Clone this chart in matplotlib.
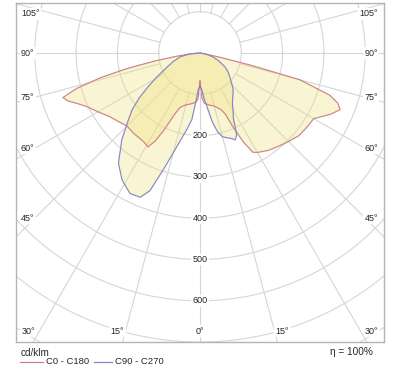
import numpy as np
import matplotlib
matplotlib.use('Agg')
import matplotlib.pyplot as plt
from matplotlib.lines import Line2D

plt.rcParams['font.family'] = ['Liberation Sans', 'DejaVu Sans']

# ---- data: gamma angle (deg from nadir) and luminous intensity (cd/klm) ----
c0_gamma = [0, 2.5, 5, 10, 15, 20, 22.5, 24, 26, 28, 30, 35, 40, 45, 50, 55, 60, 65, 68, 70, 72, 75, 76.5, 78, 80, 90]
c0_vals = [68, 110, 122, 128, 133, 145, 160, 195, 240, 272, 278, 288, 295, 303, 312, 315, 318, 350, 366, 355, 330, 250, 124, 45, 10, 0]

c180_gamma = [0, 2.5, 5, 10, 15, 20, 22.5, 25, 27, 29, 32, 40, 45, 50, 55, 60, 65, 68, 70, 72, 74, 76, 78, 80, 82, 85, 90]
c180_vals = [68, 112, 120, 125, 130, 140, 160, 205, 240, 260, 255, 252, 250, 258, 268, 285, 305, 324, 340, 349, 310, 250, 180, 110, 60, 20, 0]

c90_gamma = [0, 3, 5, 7.5, 10, 12.5, 15, 17.5, 20, 22, 24, 25, 27, 30, 33, 37, 42, 46, 51, 56, 61, 67, 73, 80, 90]
c90_vals = [80, 90, 110, 132, 168, 195, 210, 215, 220, 227, 218, 205, 178, 160, 144, 132, 120, 107, 93, 82, 69, 50, 33, 15, 0]

c270_gamma = [0, 2.5, 5, 7, 10, 12, 15, 17.5, 20, 22.5, 26.5, 31.5, 36.5, 42, 46, 50, 53.5, 57, 61, 66, 72, 79, 85, 90]
c270_vals = [80, 88, 120, 163, 190, 210, 250, 297, 355, 378, 380, 361, 332, 283, 245, 215, 183, 150, 119, 90, 69, 49, 25, 0]

ring_values = [100, 200, 300, 400, 500, 600, 700, 800, 900, 1000]
ring_labels = [200, 300, 400, 500, 600]
side_angles = [45, 60, 75, 90, 105]
bottom_angles = [-30, -15, 0, 15, 30]
unit_label = 'cd/klm'
legend_labels = ['C0 - C180', 'C90 - C270']
efficiency_label = 'η = 100%'

# ---- layout ----
W, H = 400, 370
UPP = 2.4213          # data units per pixel
cx, cy = 200, 53      # pixel position of the polar centre
left_px, right_px, top_px, bot_px = 16, 384, 3, 342

fig = plt.figure(figsize=(W / 100, H / 100), dpi=100)
ax = fig.add_axes([left_px / W, (H - bot_px) / H, (right_px - left_px) / W, (bot_px - top_px) / H])
ax.set_xlim((left_px - cx) * UPP, (right_px - cx) * UPP)
ax.set_ylim((cy - bot_px) * UPP, (cy - top_px) * UPP)
ax.set_xticks([])
ax.set_yticks([])
for s in ax.spines.values():
    s.set_color('#b4b4b4')
    s.set_linewidth(1.0)

grid_c = '#d6d6d6'
th = np.linspace(0, 2 * np.pi, 721)
for r in ring_values:
    ax.plot(r * np.cos(th), r * np.sin(th), color=grid_c, lw=0.8, zorder=1)
for a in range(0, 360, 15):
    g = np.radians(a)
    d = np.array([100, 3000])
    ax.plot(d * np.sin(g), -d * np.cos(g), color=grid_c, lw=0.8, zorder=1)


def curve(right_g, right_v, left_g, left_v):
    rg = np.radians(right_g)
    lg = np.radians(left_g)
    rv = np.asarray(right_v, float)
    lv = np.asarray(left_v, float)
    x = np.concatenate([rv * np.sin(rg), (-lv * np.sin(lg))[::-1]])
    y = np.concatenate([-rv * np.cos(rg), (-lv * np.cos(lg))[::-1]])
    return x, y


fill_c = '#eee27e'
x1, y1 = curve(c0_gamma, c0_vals, c180_gamma, c180_vals)
x2, y2 = curve(c90_gamma, c90_vals, c270_gamma, c270_vals)
ax.fill(x1, y1, color=fill_c, alpha=0.35, lw=0, zorder=2)
ax.fill(x2, y2, color=fill_c, alpha=0.35, lw=0, zorder=2)
red_c, blue_c = '#cc8383', '#8686c6'
ax.plot(np.append(x1, x1[0]), np.append(y1, y1[0]), color=red_c, lw=0.85, zorder=3)
ax.plot(np.append(x2, x2[0]), np.append(y2, y2[0]), color=blue_c, lw=0.85, zorder=3)

txt_c = '#262626'
fs = 6.5
bb = dict(boxstyle='square,pad=0.15', fc='white', ec='none')
for r in ring_labels:
    ax.text(0, -r, str(r), ha='center', va='center', fontsize=fs, color=txt_c, bbox=bb, zorder=5)

# side angle labels
for a in side_angles:
    g = np.radians(a)
    dy_px = 173 * np.cos(g) / np.sin(g) * 0.955
    py = max(cy + dy_px, top_px + 11)
    y = (cy - py) * UPP
    ax.text((left_px + 5 - cx) * UPP, y, f'{a}°', ha='left', va='center', fontsize=fs,
            color=txt_c, bbox=bb, zorder=5)
    ax.text((right_px - 6 - cx) * UPP, y, f'{a}°', ha='right', va='center', fontsize=fs,
            color=txt_c, bbox=bb, zorder=5)

# bottom angle labels
for a in bottom_angles:
    g = np.radians(a)
    dx_px = (bot_px - cy) * np.tan(g)
    dx_px = dx_px + 5 * np.sign(a)
    ax.text(dx_px * UPP, (cy - 331) * UPP, f'{abs(a)}°', ha='center', va='center', fontsize=fs,
            color=txt_c, bbox=bb, zorder=5)

# ---- footer ----
fig.text(21 / W, 1 - 353 / H, unit_label, ha='left', va='center', fontsize=7.2, color=txt_c)
fig.text(373 / W, 1 - 352 / H, efficiency_label, ha='right', va='center', fontsize=7.2, color=txt_c)
leg_pos = [(20, 43, 46), (94, 112, 115)]
for (x0, x1p, xt), lab, c in zip(leg_pos, legend_labels, [red_c, blue_c]):
    fig.add_artist(Line2D([x0 / W, x1p / W], [1 - 362 / H, 1 - 362 / H], color=c, lw=0.9))
    fig.text(xt / W, 1 - 362 / H, lab, ha='left', va='center', fontsize=6.8, color=txt_c)

fig.savefig('out.png', dpi=100)
